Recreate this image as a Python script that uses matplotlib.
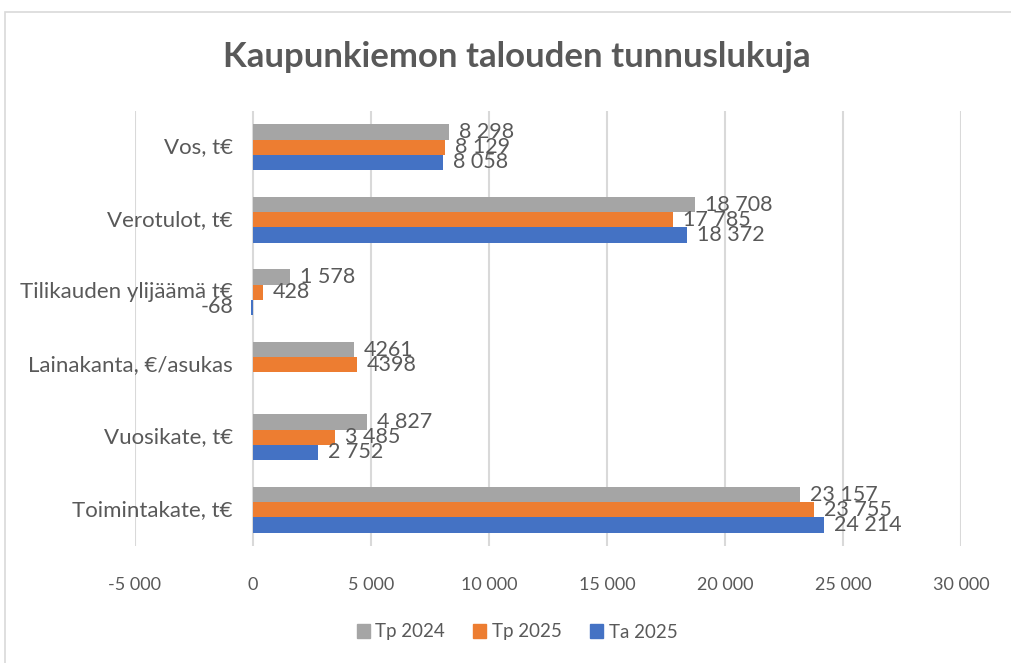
import matplotlib.pyplot as plt
from matplotlib.patches import Rectangle, Patch
import numpy as np

plt.rcParams['font.family'] = ['Lato', 'DejaVu Sans']

# Data (bottom to top)
categories = ['Toimintakate, t€', 'Vuosikate, t€', 'Lainakanta, €/asukas',
              'Tilikauden ylijäämä t€', 'Verotulot, t€', 'Vos, t€']
tp2024 = [23157, 4827, 4261, 1578, 18708, 8298]
tp2025 = [23755, 3485, 4398, 428, 17785, 8129]
ta2025 = [24214, 2752, None, -68, 18372, 8058]
plain_format = ['Lainakanta, €/asukas']

series = [('Ta 2025', ta2025, '#4472C4', -0.21),
          ('Tp 2025', tp2025, '#ED7D31', 0.0),
          ('Tp 2024', tp2024, '#A5A5A5', 0.21)]

txt = '#595959'

fig = plt.figure(figsize=(10.11, 6.63), dpi=100)
fig.patches.append(Rectangle((5 / 1011, -0.1), 1.2, 1 - 12 / 663 + 0.1,
                             transform=fig.transFigure, fill=False,
                             edgecolor='#D9D9D9', linewidth=1.2))
ax = fig.add_axes([135 / 1011, 1 - 546 / 663, 826 / 1011, 435 / 663])

y = np.arange(len(categories))
for name, vals, col, off in series:
    for i, v in enumerate(vals):
        if v is None:
            continue
        ax.barh(y[i] + off, v, height=0.21, color=col, zorder=2)
        if categories[i] in plain_format:
            s = str(v)
        else:
            s = f'{v:,}'.replace(',', ' ')
        if v >= 0:
            ax.annotate(s, (v, y[i] + off), xytext=(10, 0), textcoords='offset pixels',
                        ha='left', va='center', fontsize=15.5, color=txt, zorder=3)
        else:
            ax.annotate(s, (v, y[i] + off), xytext=(-18, 0), textcoords='offset pixels',
                        ha='right', va='center', fontsize=15.5, color=txt, zorder=3)

for i, c in enumerate(categories):
    ax.annotate(c, (0, y[i]), xytext=(-20, 0), textcoords='offset pixels',
                ha='right', va='center', fontsize=16, color=txt)

ax.set_xlim(-5000, 30000)
ax.set_ylim(-0.5, len(categories) - 0.5)
xt = np.arange(-5000, 30001, 5000)
ax.set_xticks(xt)
ax.set_xticklabels([f'{v:,}'.replace(',', ' ') for v in xt], fontsize=13, color=txt)
ax.tick_params(axis='x', length=0, pad=22)
ax.set_yticks([])
ax.grid(True, axis='x', color='#D9D9D9', linewidth=1.5, zorder=0)
ax.set_axisbelow(True)
for sp in ax.spines.values():
    sp.set_visible(False)

fig.text(517 / 1011, 1 - 57 / 663, 'Kaupunkiemon talouden tunnuslukuja',
         ha='center', va='center', fontsize=25, fontweight='bold', color=txt)

handles = [Patch(color=col, label=name) for name, vals, col, off in series[::-1]]
fig.legend(handles=handles, loc='center', bbox_to_anchor=(517 / 1011, 1 - 632 / 663),
           ncol=3, frameon=False, fontsize=13.5, labelcolor=txt,
           handlelength=0.7, handleheight=0.7, handletextpad=0.3, columnspacing=1.5)

fig.savefig('out.png', dpi=100)
